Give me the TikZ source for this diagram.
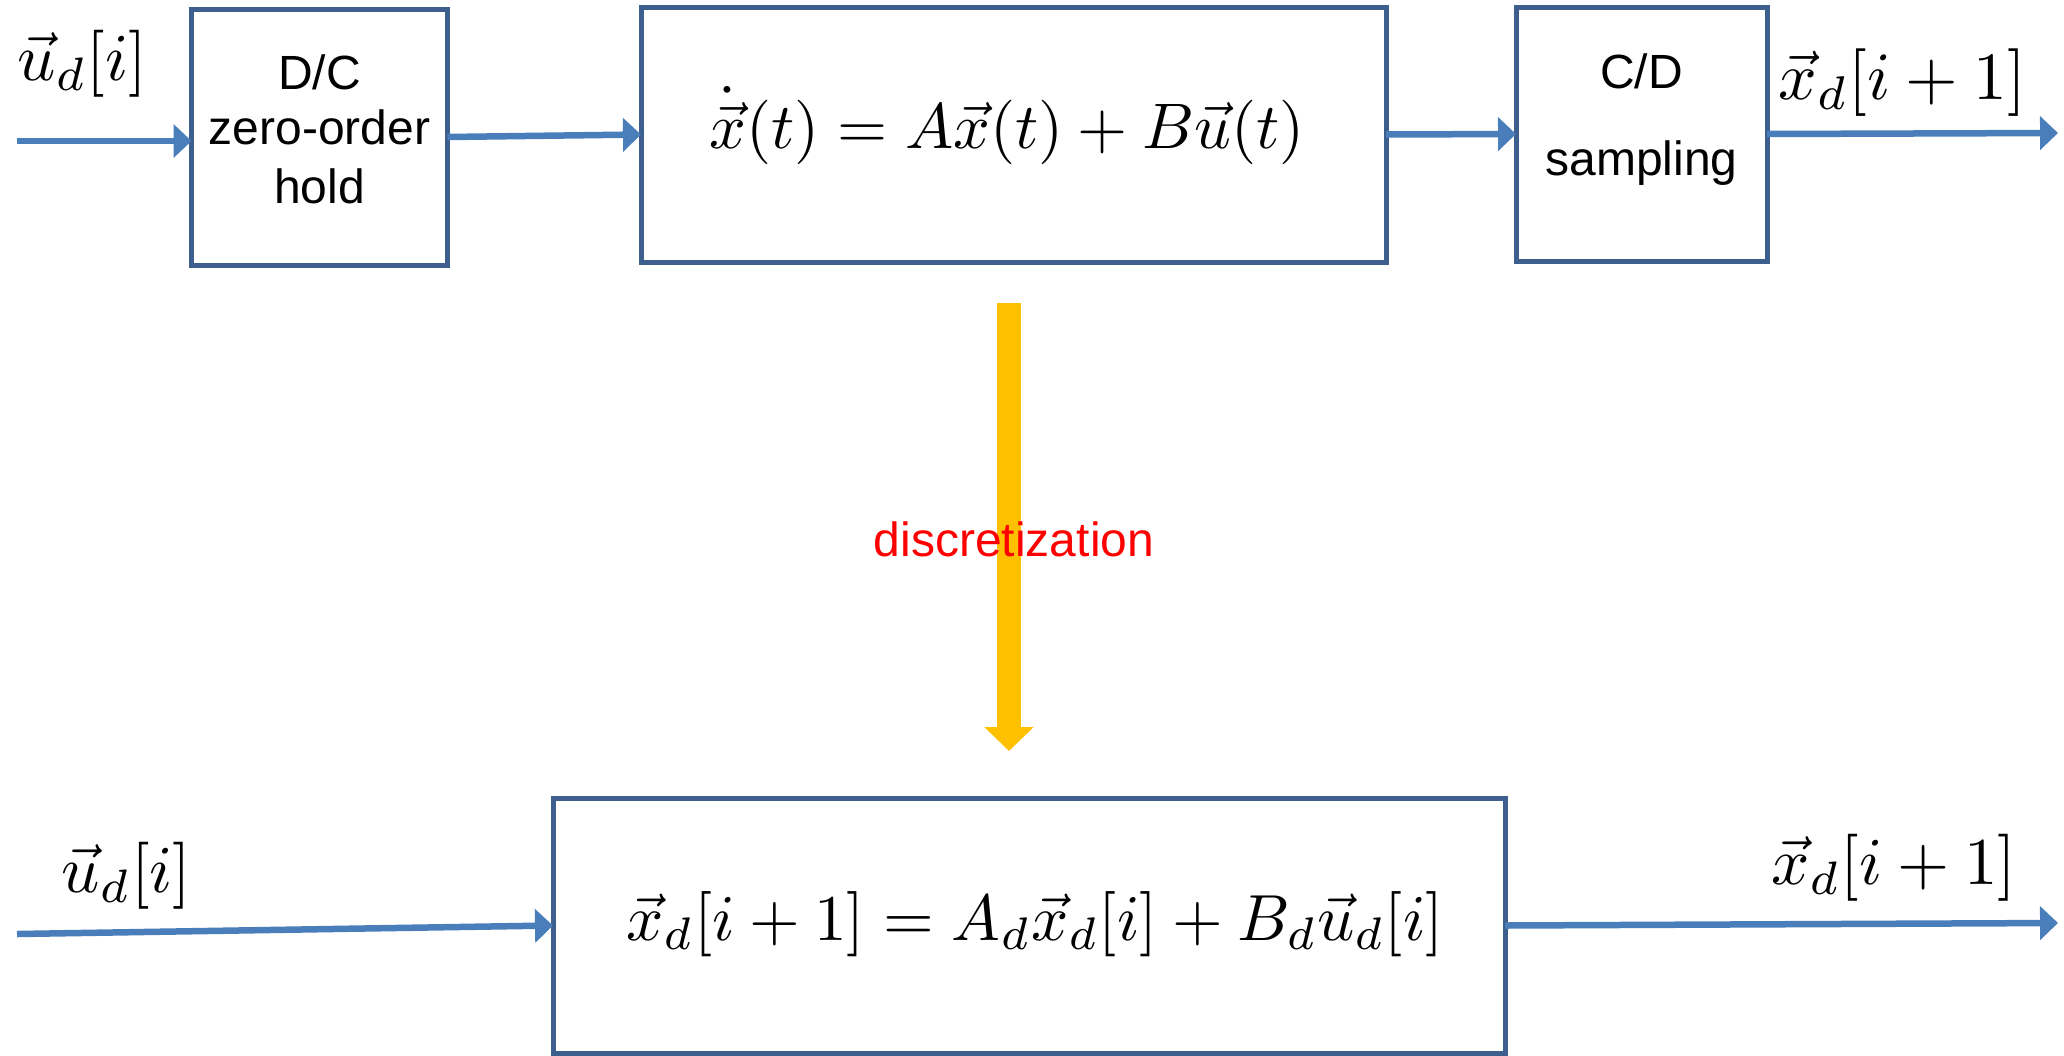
\documentclass[tikz,border=0pt]{standalone}
\usepackage{fontspec}
\newfontfamily\arial{Liberation Sans}
\usetikzlibrary{arrows.meta}
\definecolor{boxblue}{HTML}{3C5F8E}
\definecolor{arrblue}{HTML}{4A7EBB}
\definecolor{amber}{HTML}{FFC000}
\newcommand{\mbig}[2]{\scalebox{#1}{$#2$}}
\begin{document}
\begin{tikzpicture}[x=0.5pt,y=-0.5pt,
  blk/.style={draw=boxblue, line width=2.5pt, inner sep=0pt, outer sep=0pt},
  conn/.style={draw=arrblue, line width=3.25pt, -{Triangle[length=9pt,width=16.5pt]}},
  txt/.style={font=\arial\fontsize{24}{28}\selectfont, inner sep=0pt, anchor=base},
  mth/.style={inner sep=0pt, anchor=base west},
  eqn/.style={inner sep=0pt, anchor=base}]
\useasboundingbox (0,0) rectangle (2064,1055);
% boxes
\node[blk, minimum width=128pt, minimum height=128pt] (dc) at (319.5,137) {};
\node[blk, minimum width=372.5pt, minimum height=127.5pt] (main) at (1013.5,134.5) {};
\node[blk, minimum width=125.5pt, minimum height=127pt] (cd) at (1641.5,134) {};
\node[blk, minimum width=476pt, minimum height=127.5pt] (bot) at (1029,925.5) {};
% box texts
\node[txt] (dc1) at (319.5,89) {D/C};
\node[txt] (dc2) at (319.5,144) {zero-order};
\node[txt] (dc3) at (319.5,203) {hold};
\node[txt] (cd1) at (1641.5,88) {C/D};
\node[txt] (cd2) at (1641.5,175) {sampling};
\node[eqn] (eq1) at (1007,148) {\mbig{3.22}{\dot{\vec{x}}(t) = A\vec{x}(t) + B\vec{u}(t)}};
\node[eqn] (eq2) at (1035,940) {\mbig{3.26}{\vec{x}_d[i+1] = A_d\vec{x}_d[i] + B_d\vec{u}_d[i]}};
% signal labels
\node[mth] (uin) at (17,80) {\mbig{3.35}{\vec{u}_d[i]}};
\node[mth] (xout) at (1778,99) {\mbig{3.38}{\vec{x}_d[i+1]}};
\node[mth] (uin2) at (61,892) {\mbig{3.35}{\vec{u}_d[i]}};
\node[mth] (xout2) at (1771,884) {\mbig{3.35}{\vec{x}_d[i+1]}};
% connector end points
\coordinate (in1) at (17,141);
\coordinate (out1) at (2058,133);
\coordinate (in2) at (17,934);
\coordinate (out2) at (2058,923);
% connectors
\draw[conn] (in1) -- (in1 -| dc.west);
\draw[conn] (dc.east) -- (main.west);
\draw[conn] (main.east) -- (cd.west);
\draw[conn] (cd.east) -- (out1);
\draw[conn] (in2) -- (bot.west);
\draw[conn] (bot.east) -- (out2);
% discretization arrow
\coordinate (ytop) at (1009,303);
\coordinate (ytip) at (1009,751);
\draw[amber, line width=12pt, -{Triangle[length=12pt,width=24pt]}] (ytop) -- (ytip);
\node[txt, text=red] (disc) at (1014,556) {discretization};
\end{tikzpicture}
\end{document}
